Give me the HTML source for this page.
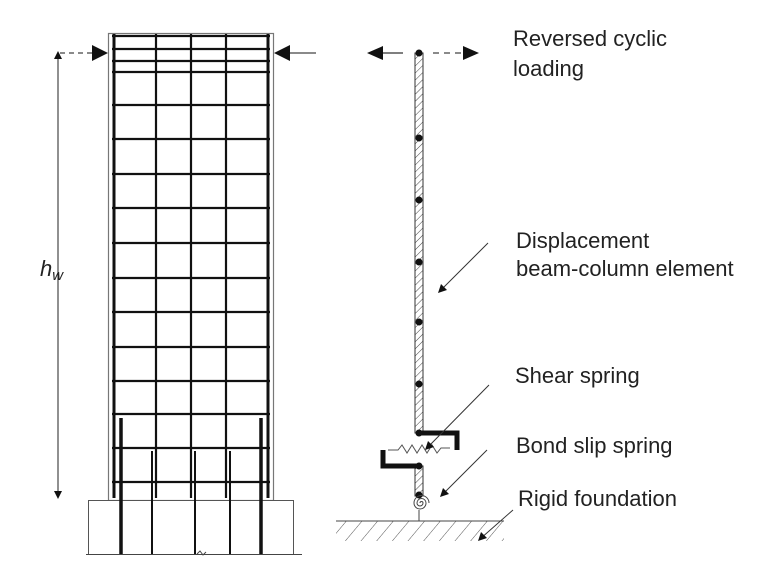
<!DOCTYPE html>
<html><head><meta charset="utf-8"><style>
html,body{margin:0;padding:0;background:#fff}
svg{display:block}
text{font-family:"Liberation Sans",sans-serif;font-size:22px;fill:#222}
</style></head><body>
<svg width="768" height="570" viewBox="0 0 768 570" xmlns="http://www.w3.org/2000/svg">
<defs>
<pattern id="h" width="5" height="5" patternUnits="userSpaceOnUse" patternTransform="rotate(45)">
<line x1="0" y1="0" x2="0" y2="5" stroke="#444" stroke-width="1"/></pattern>
<pattern id="g" width="12" height="12" patternUnits="userSpaceOnUse" patternTransform="rotate(40)">
<line x1="0" y1="0" x2="0" y2="12" stroke="#555" stroke-width="1"/></pattern>
</defs>
<!-- column -->
<rect x="108.5" y="33.5" width="165" height="467" fill="none" stroke="#777" stroke-width="1.2"/>
<g stroke="#111" stroke-width="3">
<line x1="114" y1="34" x2="114" y2="498"/><line x1="268" y1="34" x2="268" y2="498"/>
</g>
<g stroke="#111" stroke-width="2.2">
<line x1="156" y1="34" x2="156" y2="498"/><line x1="191" y1="34" x2="191" y2="498"/><line x1="226" y1="34" x2="226" y2="498"/>
<line x1="112" y1="36" x2="270" y2="36"/><line x1="112" y1="49" x2="270" y2="49"/>
<line x1="112" y1="61" x2="270" y2="61"/><line x1="112" y1="72" x2="270" y2="72"/>
<line x1="112" y1="105" x2="270" y2="105"/><line x1="112" y1="139" x2="270" y2="139"/>
<line x1="112" y1="174" x2="270" y2="174"/><line x1="112" y1="208" x2="270" y2="208"/>
<line x1="112" y1="243" x2="270" y2="243"/><line x1="112" y1="278" x2="270" y2="278"/>
<line x1="112" y1="312" x2="270" y2="312"/><line x1="112" y1="347" x2="270" y2="347"/>
<line x1="112" y1="381" x2="270" y2="381"/><line x1="112" y1="414" x2="270" y2="414"/>
<line x1="112" y1="448" x2="270" y2="448"/><line x1="112" y1="482" x2="270" y2="482"/>
</g>
<!-- foundation -->
<rect x="88.5" y="500.5" width="205" height="54" fill="#fff" stroke="#555" stroke-width="1"/>
<line x1="86" y1="554.5" x2="302" y2="554.5" stroke="#444" stroke-width="1"/>
<path d="M197 554 l3 -3 l3 4 l3 -3" fill="none" stroke="#444"/>
<g stroke="#111">
<line x1="121" y1="418" x2="121" y2="554" stroke-width="3.5"/>
<line x1="261" y1="418" x2="261" y2="554" stroke-width="3.5"/>
<line x1="152" y1="451" x2="152" y2="554" stroke-width="2"/>
<line x1="195" y1="451" x2="195" y2="554" stroke-width="2"/>
<line x1="230" y1="451" x2="230" y2="554" stroke-width="2"/>
</g>
<!-- dimension -->
<line x1="58" y1="56" x2="58" y2="494" stroke="#222" stroke-width="1"/>
<path d="M58 51 l-4 8 h8z M58 499 l-4 -8 h8z" fill="#111"/>
<line x1="60" y1="53" x2="93" y2="53" stroke="#444" stroke-dasharray="5,4" stroke-width="1.2"/>
<path d="M108 53 L92 45 V61z" fill="#111"/>
<line x1="288" y1="53" x2="316" y2="53" stroke="#444" stroke-width="1.2"/>
<path d="M274 53 L290 45 V61z" fill="#111"/>
<text x="40" y="276" font-style="italic" font-size="21">h<tspan font-size="15" dy="4">w</tspan></text>
<!-- model -->
<rect x="415" y="53" width="8" height="380" fill="url(#h)" stroke="#333" stroke-width="1"/>
<rect x="415" y="466" width="8" height="30" fill="url(#h)" stroke="#333" stroke-width="1"/>
<g fill="#111">
<circle cx="419" cy="53" r="3.5"/><circle cx="419" cy="138" r="3.5"/><circle cx="419" cy="200" r="3.5"/>
<circle cx="419" cy="262" r="3.5"/><circle cx="419" cy="322" r="3.5"/><circle cx="419" cy="384" r="3.5"/>
<circle cx="419" cy="433" r="3.5"/><circle cx="419" cy="466" r="3.5"/><circle cx="419" cy="495" r="3.5"/>
</g>
<path d="M419 433 H457 V450" fill="none" stroke="#111" stroke-width="5"/>
<path d="M419 466 H383 V450" fill="none" stroke="#111" stroke-width="5"/>
<path d="M388 450 H398 l4 -5 l5 8 l5 -8 l5 8 l5 -8 l5 8 l5 -8 l5 8 l4 -5 H450" fill="none" stroke="#555" stroke-width="1"/>
<path d="M420 503 A1.5 1.5 0 0 1 423 503 A3 3 0 0 1 417 503 A4.5 4.5 0 0 1 426 503 A6 6 0 0 1 414 503 A7.5 7.5 0 0 1 429 503" fill="none" stroke="#444" stroke-width="1"/>
<line x1="419" y1="510" x2="419" y2="521" stroke="#444"/>
<rect x="336" y="521" width="168" height="20" fill="url(#g)"/>
<line x1="336" y1="521" x2="504" y2="521" stroke="#444" stroke-width="1"/>
<!-- load arrows -->
<line x1="380" y1="53" x2="403" y2="53" stroke="#333" stroke-width="1.2"/>
<path d="M367 53 L383 46 V60z" fill="#111"/>
<line x1="433" y1="53" x2="464" y2="53" stroke="#444" stroke-width="1.2" stroke-dasharray="6,5"/>
<path d="M479 53 L463 46 V60z" fill="#111"/>
<!-- leaders -->
<g stroke="#333" stroke-width="1">
<line x1="488" y1="243" x2="440" y2="291"/>
<line x1="489" y1="385" x2="427" y2="448"/>
<line x1="487" y1="450" x2="442" y2="495"/>
<line x1="513" y1="510" x2="480" y2="539"/>
</g>
<g fill="#111">
<path d="M438 293 l3 -9 l6 6z"/><path d="M425 450 l3 -9 l6 6z"/><path d="M440 497 l3 -9 l6 6z"/><path d="M478 541 l3 -9 l6 6z"/>
</g>
<text x="513" y="46">Reversed cyclic</text>
<text x="513" y="76">loading</text>
<text x="516" y="248">Displacement</text>
<text x="516" y="276">beam-column element</text>
<text x="515" y="383">Shear spring</text>
<text x="516" y="453">Bond slip spring</text>
<text x="518" y="506">Rigid foundation</text>
</svg>
</body></html>
